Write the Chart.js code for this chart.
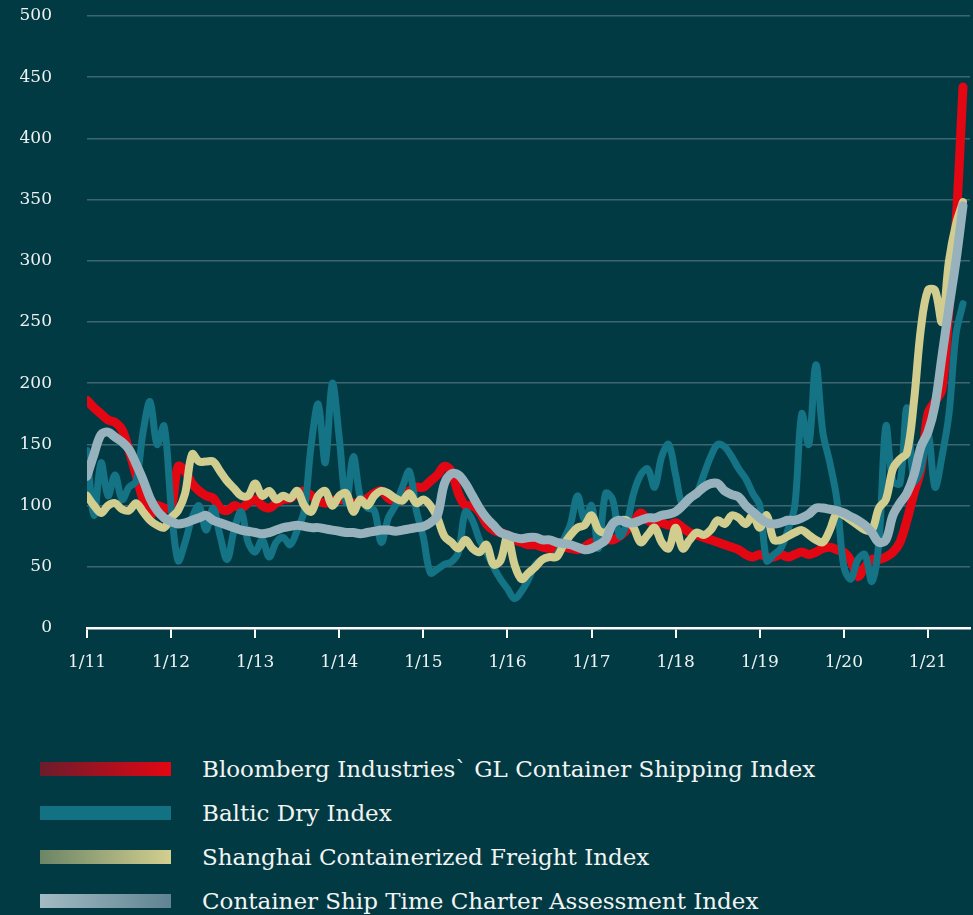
<!DOCTYPE html>
<html lang="en">
<head>
<meta charset="UTF-8">
<title>Shipping indices</title>
<script src="https://cdn.jsdelivr.net/npm/chart.js"></script>
<style>
    html, body { margin: 0; padding: 0; background: #023a44; }
    body { width: 973px; height: 915px; position: relative; overflow: hidden; font-family: 'DejaVu Serif', serif; }
    #grafico { position: absolute; left: 0; top: 0; }
    .legenda { position: absolute; left: 40px; top: 747px; }
    .item { display: flex; align-items: center; height: 44px; }
    .cor { width: 131px; height: 14px; margin-right: 31px; }
    .texto { color: #f2f4f2; font-size: 23px; white-space: nowrap; }
</style>
</head>
<body>

<canvas id="grafico" width="973" height="700"></canvas>

<!-- legenda feita em html por causa dos degrades -->
<div class="legenda">
    <div class="item"><div class="cor" style="background: linear-gradient(90deg, #6b1c2c, #e30613)"></div><span class="texto">Bloomberg Industries` GL Container Shipping Index</span></div>
    <div class="item"><div class="cor" style="background: #137184"></div><span class="texto">Baltic Dry Index</span></div>
    <div class="item"><div class="cor" style="background: linear-gradient(90deg, #6b8566, #d3cf8f)"></div><span class="texto">Shanghai Containerized Freight Index</span></div>
    <div class="item"><div class="cor" style="background: linear-gradient(90deg, #a3bbc4, #5f8491)"></div><span class="texto">Container Ship Time Charter Assessment Index</span></div>
</div>

<script>
    // monthly values, Jan 2011 .. Jun 2021
    const startYear = 2011;
    const tickLabels = ['1/11', '1/12', '1/13', '1/14', '1/15', '1/16', '1/17', '1/18', '1/19', '1/20', '1/21'];

    const bloomberg = [
        186, 180, 175, 170, 168, 162, 145, 125, 105, 92, 100, 98,
        98, 132, 128, 118, 112, 108, 106, 98, 96, 100, 98, 102,
        105, 100, 98, 102, 105, 106, 110, 112, 108, 104, 102, 104,
        105, 104, 102, 103, 106, 110, 112, 106, 104, 108, 112, 115,
        115, 120, 125, 132, 128, 110, 100, 100, 95, 85, 80, 78,
        76, 72, 70, 68, 68, 66, 65, 64, 66, 65, 64, 66,
        70, 68, 72, 72, 75, 80, 86, 94, 88, 86, 86, 84,
        86, 82, 78, 76, 74, 72, 70, 68, 66, 64, 60, 58,
        60, 58, 58, 60, 58, 60, 62, 60, 62, 65, 66, 64,
        62, 55, 42, 50, 56, 56, 58, 62, 70, 88, 110, 130,
        175, 185, 195, 260, 330, 442
    ];

    const balticDry = [
        145, 92, 135, 108, 125, 105, 115, 120, 160, 185, 150, 165,
        100, 55, 70, 90, 100, 80, 98, 75, 56, 80, 95, 70,
        62, 72, 58, 70, 74, 68, 80, 96, 150, 183, 135, 200,
        155, 102, 140, 107, 98, 96, 70, 90, 100, 115, 128, 96,
        74, 45, 48, 52, 54, 62, 95, 88, 72, 62, 50, 40,
        32, 24, 30, 40, 52, 56, 58, 60, 72, 85, 108, 88,
        100, 65, 110, 105, 75, 85, 110, 125, 130, 115, 140, 150,
        125, 100, 105, 110, 125, 140, 150, 148, 140, 130, 122, 110,
        100, 55, 60, 65, 80, 100, 175, 150, 215, 160, 135, 105,
        50, 40, 56, 60, 38, 70, 165, 120, 118, 180, 120, 130,
        160, 115, 140, 175, 240, 265
    ];

    const shanghai = [
        108, 100, 94, 100, 102, 97, 96, 102, 95, 88, 84, 82,
        90, 96, 110, 142, 136, 136, 136, 128, 120, 114, 108, 108,
        118, 108, 112, 105, 108, 106, 112, 100, 95, 108, 112, 100,
        108, 110, 95, 105, 100, 108, 112, 110, 106, 104, 110, 102,
        105, 100, 90, 75, 70, 65, 72, 65, 62, 68, 52, 55,
        75, 52, 40, 45, 50, 56, 58, 58, 68, 76, 82, 84,
        92, 80, 78, 85, 88, 88, 82, 70, 76, 82, 70, 65,
        82, 65, 72, 78, 76, 80, 88, 85, 92, 90, 85, 92,
        82, 92, 72, 72, 75, 78, 80, 76, 72, 70, 80, 94,
        92, 88, 84, 80, 80, 98, 105, 130, 138, 143, 185, 245,
        276, 276, 250, 300, 330, 348
    ];

    const containerShip = [
        124, 142, 158, 160, 156, 152, 146, 134, 121, 106, 96, 90,
        87, 85, 86, 88, 90, 92, 88, 86, 84, 82, 80, 79,
        78, 77, 78, 80, 82, 83, 84, 83, 82, 82, 81, 80,
        79, 78, 78, 77, 78, 79, 80, 80, 79, 80, 81, 82,
        83, 86, 92, 118, 126, 125, 118, 108, 98, 90, 84, 78,
        76, 74, 73, 74, 74, 72, 72, 70, 69, 68, 66, 64,
        65, 68, 72, 85, 88, 86, 86, 88, 90, 90, 92, 93,
        95, 100, 106, 110, 115, 118, 118, 112, 109, 107, 100, 95,
        90, 86, 85, 86, 88, 88, 90, 93, 98, 98, 97, 96,
        94, 91, 88, 84, 78, 70, 72, 92, 102, 110, 125, 148,
        160, 182, 222, 262, 300, 345
    ];

    function pontos(valores) {
        var lista = [];
        for (var i = 0; i < valores.length; i++) {
            lista.push({ x: startYear + i / 12, y: valores[i] });
        }
        return lista;
    }

    function serie(nome, valores, cor, largura) {
        return {
            label: nome,
            data: pontos(valores),
            borderColor: cor,
            borderWidth: largura,
            pointRadius: 0,
            tension: 0.35,
            borderCapStyle: 'round',
            borderJoinStyle: 'round',
            fill: false
        };
    }

    var fonte = { family: 'DejaVu Serif', size: 17 };

    // first dataset is drawn on top
    var ctx = document.getElementById('grafico').getContext('2d');
    window.grafico = new Chart(ctx, {
        type: 'line',
        data: {
            datasets: [
                serie('Container Ship Time Charter Assessment Index', containerShip, '#98b2bd', 9),
                serie('Shanghai Containerized Freight Index', shanghai, '#d1cd8f', 8),
                serie('Baltic Dry Index', balticDry, '#147385', 7),
                serie('Bloomberg Industries` GL Container Shipping Index', bloomberg, '#e30613', 9)
            ]
        },
        options: {
            responsive: false,
            animation: false,
            layout: { padding: { top: 16, right: 3, left: 0, bottom: 0 } },
            plugins: {
                legend: { display: false },
                tooltip: { enabled: false }
            },
            scales: {
                x: {
                    type: 'linear',
                    min: 2011,
                    max: 2021.5,
                    afterFit: function (scale) { scale.height = 72; },
                    border: { display: true, color: '#ffffff', width: 2.5 },
                    grid: {
                        display: true,
                        drawOnChartArea: false,
                        drawTicks: true,
                        tickLength: 10,
                        color: '#ffffff',
                        lineWidth: 2
                    },
                    ticks: {
                        stepSize: 1,
                        includeBounds: false,
                        autoSkip: false,
                        maxRotation: 0,
                        padding: 14,
                        color: '#eef2f2',
                        font: fonte,
                        callback: function (v) {
                            return tickLabels[Math.round(v) - startYear];
                        }
                    }
                },
                y: {
                    min: 0,
                    max: 500,
                    afterFit: function (scale) { scale.width = 87; },
                    border: { display: false },
                    grid: {
                        color: '#3f6670',
                        lineWidth: 1.5,
                        drawTicks: true,
                        tickLength: 35,
                        tickColor: 'rgba(0,0,0,0)'
                    },
                    ticks: {
                        stepSize: 50,
                        padding: 0,
                        color: '#eef2f2',
                        font: fonte
                    }
                }
            }
        }
    });
</script>
</body>
</html>
